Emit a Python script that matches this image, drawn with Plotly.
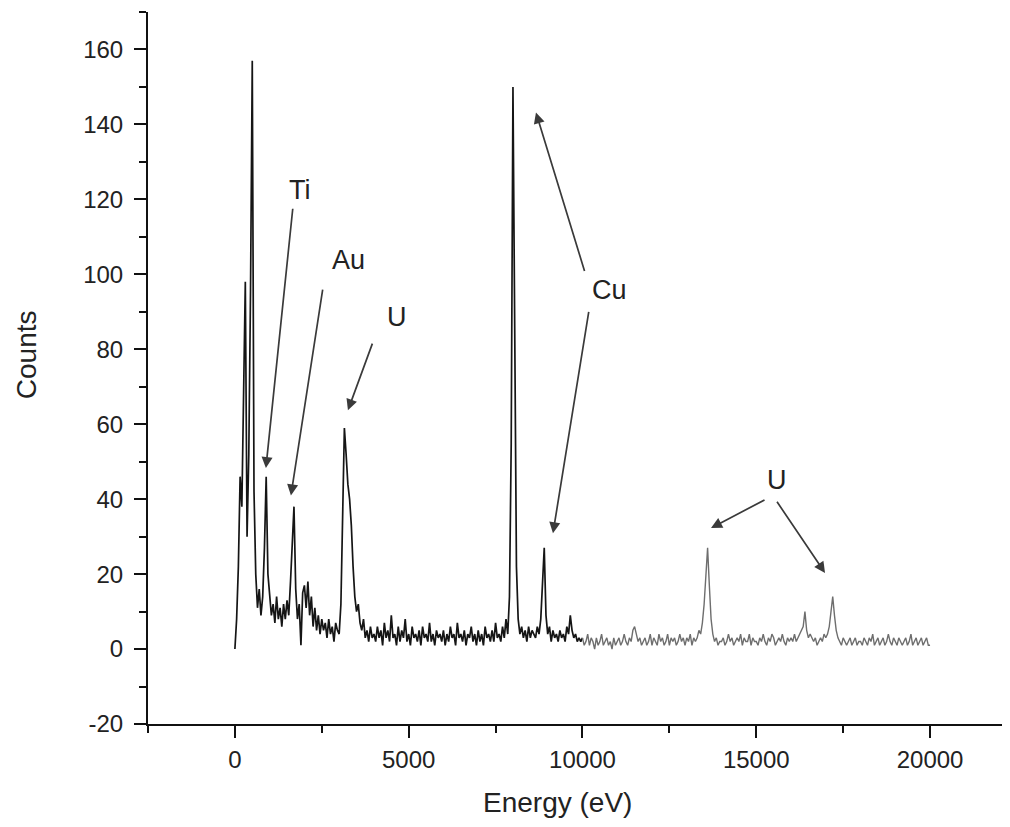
import plotly.graph_objects as go

# Spectrum: counts per 50 eV channel, starting at 0 eV
energy_start = 0
energy_step = 50
counts_0_to_10k = [
    0, 8, 22, 46, 38, 72, 98, 30, 52, 96, 157, 42, 20, 11, 16, 9, 14, 27, 46, 20,
    13, 9, 12, 7, 14, 8, 11, 6, 12, 8, 13, 9, 18, 28, 38, 16, 8, 12, 1, 15,
    17, 11, 18, 9, 14, 6, 11, 5, 9, 4, 8, 5, 7, 3, 8, 4, 6, 2, 7, 5,
    4, 12, 35, 59, 52, 44, 40, 33, 22, 14, 10, 12, 7, 5, 8, 3, 5, 2, 6, 3,
    4, 2, 6, 3, 5, 1, 7, 3, 5, 2, 9, 3, 4, 1, 6, 2, 5, 3, 8, 2,
    4, 1, 6, 3, 4, 2, 5, 1, 6, 3, 4, 2, 7, 2, 4, 1, 5, 3, 4, 2,
    5, 1, 4, 2, 6, 3, 4, 1, 7, 3, 4, 2, 5, 1, 4, 3, 6, 2, 4, 1,
    5, 2, 4, 1, 6, 3, 4, 2, 5, 2, 7, 3, 4, 2, 6, 3, 8, 4, 14, 55,
    150, 88, 22, 8, 4, 6, 3, 5, 2, 6, 3, 5, 4, 3, 6, 4, 8, 18, 27, 9,
    4, 6, 2, 5, 3, 4, 2, 5, 3, 4, 2, 6, 4, 9, 5, 3, 4, 2, 3, 2,
]
counts_10k_to_20k = [
    3, 1, 2, 4, 1, 3, 2, 0, 3, 1, 2, 4, 1, 2, 3, 1, 2, 0, 3, 1,
    2, 3, 1, 2, 4, 2, 1, 3, 2, 5, 6, 4, 2, 3, 1, 2, 3, 1, 2, 4,
    1, 3, 2, 1, 4, 2, 3, 1, 2, 4, 1, 3, 2, 3, 1, 2, 4, 2, 3, 1,
    3, 2, 4, 1, 3, 2, 3, 5, 4, 7, 12, 20, 27, 17, 8, 4, 2, 3, 1, 2,
    2, 3, 1, 2, 4, 2, 3, 1, 2, 3, 2, 4, 1, 3, 2, 2, 4, 1, 3, 2,
    2, 1, 3, 2, 4, 2, 1, 3, 2, 4, 3, 1, 2, 3, 2, 4, 2, 1, 3, 2,
    3, 2, 4, 2, 3, 4, 5, 6, 10, 5, 3, 4, 3, 2, 3, 1, 2, 3, 2, 4,
    3, 4, 6, 11, 14, 9, 5, 3, 2, 1, 3, 2, 1, 2, 3, 1, 2, 3, 1, 2,
    2, 1, 3, 2, 1, 3, 2, 4, 1, 2, 3, 1, 2, 3, 1, 2, 4, 2, 1, 3,
    2, 1, 3, 2, 1, 2, 3, 1, 2, 4, 1, 2, 3, 1, 2, 3, 1, 2, 3, 1,
    1,
]

# Peak labels: (text, text_x, text_y)
label_texts = ["Ti", "Au", "U", "Cu", "U"]
label_x = [1870, 3281, 4662, 10763, 15597]
label_y = [122.4, 103.7, 88.5, 95.7, 45.0]

# Arrows: tail (x, y) -> tip (x, y)
arrow_tail_x = [1669, 2532, 3971, 10072, 10187, 15281, 15568]
arrow_tail_y = [117.9, 96.3, 81.9, 100.5, 90.4, 40.0, 39.7]
arrow_tip_x = [892, 1612, 3252, 8662, 9151, 13698, 16978]
arrow_tip_y = [48.3, 41.0, 63.7, 143.2, 30.9, 32.3, 20.3]

x_ticks = [0, 5000, 10000, 15000, 20000]
y_ticks = [-20, 0, 20, 40, 60, 80, 100, 120, 140, 160]

FONT = "Liberation Sans, Arial, Helvetica, sans-serif"
TXT = "#222222"

fig = go.Figure()
fig.add_trace(go.Scatter(
    y=counts_0_to_10k + [counts_10k_to_20k[0]], x0=energy_start, dx=energy_step,
    mode="lines", line=dict(color="#151515", width=1.7), showlegend=False,
    hoverinfo="skip"))
fig.add_trace(go.Scatter(
    y=counts_10k_to_20k, x0=energy_start + energy_step * len(counts_0_to_10k),
    dx=energy_step, mode="lines", line=dict(color="#6e6e6e", width=1.4),
    showlegend=False, hoverinfo="skip"))

annotations = []
for t, x, y in zip(label_texts, label_x, label_y):
    annotations.append(dict(x=x, y=y, xref="x", yref="y", text=t, showarrow=False,
                            xanchor="center", yanchor="middle",
                            font=dict(family=FONT, size=27, color=TXT)))
for tx, ty, hx, hy in zip(arrow_tail_x, arrow_tail_y, arrow_tip_x, arrow_tip_y):
    annotations.append(dict(x=hx, y=hy, ax=tx, ay=ty, xref="x", yref="y",
                            axref="x", ayref="y", text="", showarrow=True,
                            arrowhead=2, arrowsize=1.3, arrowwidth=1.7,
                            arrowcolor="#3a3a3a", standoff=0, startstandoff=0))
annotations.append(dict(x=0.4756, y=-0.1109, xref="paper", yref="paper",
                        xanchor="center", yanchor="middle",
                        text="Energy (eV)", showarrow=False,
                        font=dict(family=FONT, size=28, color=TXT)))
annotations.append(dict(x=-0.1415, y=0.518, xref="paper", yref="paper",
                        xanchor="center", yanchor="middle",
                        text="Counts", showarrow=False, textangle=-90,
                        font=dict(family=FONT, size=28, color=TXT)))

axis_common = dict(showgrid=False, zeroline=False, showline=True, linecolor="#111111",
                   linewidth=2, ticks="outside", tickwidth=2, tickcolor="#111111",
                   ticklen=12, mirror=False,
                   tickfont=dict(family=FONT, size=24, color=TXT))

# page body adds an 8 px offset, so the figure is 8 px smaller on each lead side
fig.update_layout(
    width=1002, height=819,
    margin=dict(l=140, r=0, t=3.5, b=103, autoexpand=False),
    paper_bgcolor="white", plot_bgcolor="white",
    xaxis=dict(range=[-2500, 22300], tickvals=x_ticks, ticktext=[str(v) for v in x_ticks],
               minor=dict(dtick=2500, tick0=0, ticks="outside", ticklen=7, tickwidth=2,
                          tickcolor="#111111"),
               ticklabelstandoff=1, **axis_common),
    yaxis=dict(range=[-20, 170], tickvals=y_ticks, ticktext=[str(v) for v in y_ticks],
               minor=dict(dtick=10, tick0=0, ticks="outside", ticklen=7, tickwidth=2,
                          tickcolor="#111111"),
               ticklabelstandoff=6, **axis_common),
    annotations=annotations,
    hovermode=False,
)

fig.write_html("out.html")
